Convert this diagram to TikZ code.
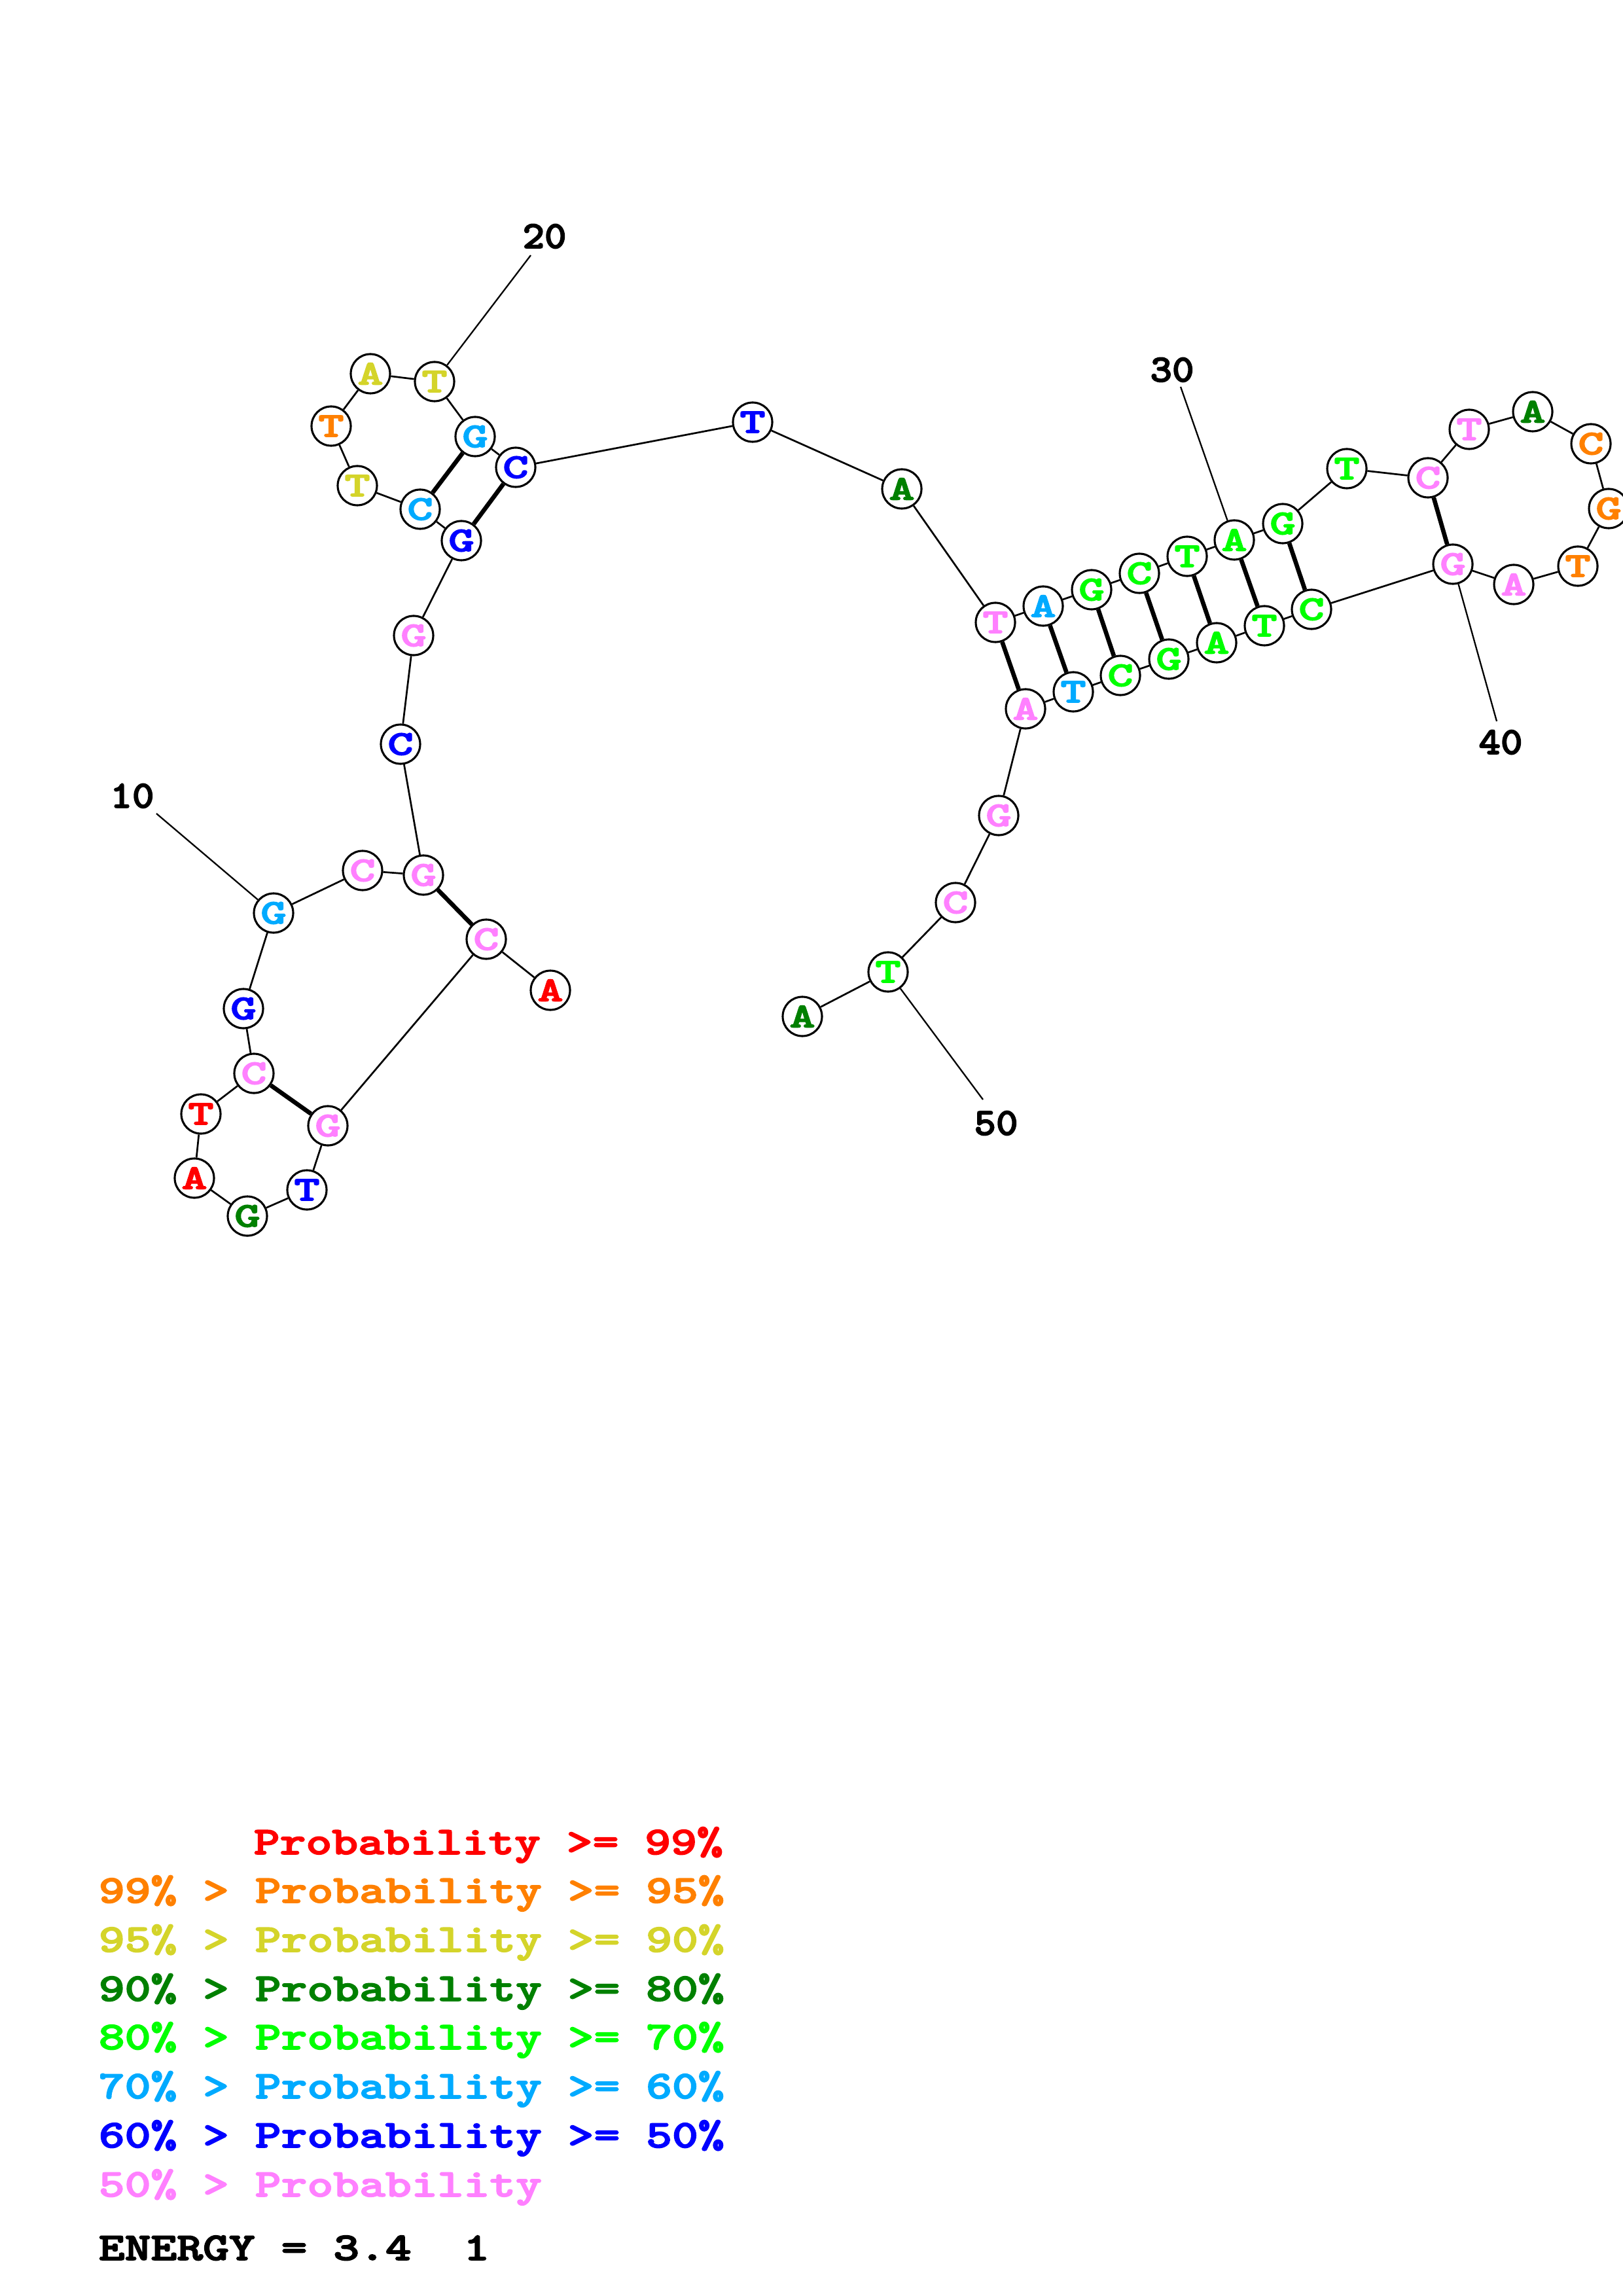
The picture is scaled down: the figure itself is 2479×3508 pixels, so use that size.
\documentclass[tikz,border=0pt]{standalone}
\usepackage{fontspec}
\usepackage{graphicx}
\newfontfamily\courb{lmmonolt10-bold.otf}[FakeBold=2.5]
\definecolor{cred}{RGB}{255,0,0}
\definecolor{corange}{RGB}{255,128,0}
\definecolor{cyellow}{RGB}{212,212,42}
\definecolor{cdgreen}{RGB}{0,128,0}
\definecolor{cgreen}{RGB}{0,255,0}
\definecolor{clblue}{RGB}{0,170,255}
\definecolor{cblue}{RGB}{0,0,255}
\definecolor{cpink}{RGB}{255,128,255}
\newcommand{\ntx}[1]{\scalebox{1.4}[1]{\fontsize{12.8}{12.8}\selectfont\courb #1}}
\newcommand{\lbx}[1]{\scalebox{1.08}[1]{\fontsize{14.2}{14.2}\selectfont\courb #1}}
\newcommand{\lgx}[1]{\scalebox{1.26}[1]{\fontsize{14.45}{14.45}\selectfont\courb #1}}
\tikzset{
  ntbox/.style={circle, draw=black, line width=0.75pt, fill=white, minimum size=14.4pt, inner sep=0pt},
  cR/.style={ntbox, text=cred},
  cO/.style={ntbox, text=corange},
  cY/.style={ntbox, text=cyellow},
  cD/.style={ntbox, text=cdgreen},
  cG/.style={ntbox, text=cgreen},
  cL/.style={ntbox, text=clblue},
  cB/.style={ntbox, text=cblue},
  cP/.style={ntbox, text=cpink},
  bbline/.style={line width=0.65pt},
  prline/.style={line width=1.6pt},
  numline/.style={line width=0.55pt},
  numlbl/.style={inner sep=0pt},
  legline/.style={anchor=base west, inner sep=0pt}
}
\begin{document}
\begin{tikzpicture}[x=0.24pt, y=-0.24pt]
\useasboundingbox (0,0) rectangle (2479,3508);
% nucleotides
\node[cR] (n1) at (841,1513) {\ntx{A}};
\node[cP] (n2) at (743,1435) {\ntx{C}};
\node[cP] (n3) at (501,1720) {\ntx{G}};
\node[cB] (n4) at (469,1818) {\ntx{T}};
\node[cD] (n5) at (378,1858) {\ntx{G}};
\node[cR] (n6) at (297,1800) {\ntx{A}};
\node[cR] (n7) at (307,1702) {\ntx{T}};
\node[cP] (n8) at (388,1640) {\ntx{C}};
\node[cB] (n9) at (372,1541) {\ntx{G}};
\node[cL] (n10) at (418,1395) {\ntx{G}};
\node[cP] (n11) at (554,1330) {\ntx{C}};
\node[cP] (n12) at (647,1337) {\ntx{G}};
\node[cB] (n13) at (612,1137) {\ntx{C}};
\node[cP] (n14) at (632,971) {\ntx{G}};
\node[cB] (n15) at (705,826) {\ntx{G}};
\node[cL] (n16) at (642,778) {\ntx{C}};
\node[cY] (n17) at (546,742) {\ntx{T}};
\node[cO] (n18) at (506,651) {\ntx{T}};
\node[cY] (n19) at (566,571) {\ntx{A}};
\node[cY] (n20) at (664,583) {\ntx{T}};
\node[cL] (n21) at (726,667) {\ntx{G}};
\node[cB] (n22) at (788,714) {\ntx{C}};
\node[cB] (n23) at (1150,645) {\ntx{T}};
\node[cD] (n24) at (1378,747) {\ntx{A}};
\node[cP] (n25) at (1521,951) {\ntx{T}};
\node[cL] (n26) at (1594,926) {\ntx{A}};
\node[cG] (n27) at (1668,901) {\ntx{G}};
\node[cG] (n28) at (1741,876) {\ntx{C}};
\node[cG] (n29) at (1814,850) {\ntx{T}};
\node[cG] (n30) at (1886,825) {\ntx{A}};
\node[cG] (n31) at (1960,800) {\ntx{G}};
\node[cG] (n32) at (2058,716) {\ntx{T}};
\node[cP] (n33) at (2182,730) {\ntx{C}};
\node[cP] (n34) at (2245,656) {\ntx{T}};
\node[cD] (n35) at (2342,629) {\ntx{A}};
\node[cO] (n36) at (2431,678) {\ntx{C}};
\node[cO] (n37) at (2458,777) {\ntx{G}};
\node[cO] (n38) at (2411,865) {\ntx{T}};
\node[cP] (n39) at (2313,893) {\ntx{A}};
\node[cP] (n40) at (2220,862) {\ntx{G}};
\node[cG] (n41) at (2004,931) {\ntx{C}};
\node[cG] (n42) at (1932,956) {\ntx{T}};
\node[cG] (n43) at (1859,982) {\ntx{A}};
\node[cG] (n44) at (1786,1007) {\ntx{G}};
\node[cG] (n45) at (1712,1032) {\ntx{C}};
\node[cL] (n46) at (1640,1057) {\ntx{T}};
\node[cP] (n47) at (1567,1083) {\ntx{A}};
\node[cP] (n48) at (1526,1246) {\ntx{G}};
\node[cP] (n49) at (1460,1379) {\ntx{C}};
\node[cG] (n50) at (1357,1485) {\ntx{T}};
\node[cD] (n51) at (1226,1553) {\ntx{A}};
% backbone
\foreach \i [evaluate=\i as \j using int(\i+1)] in {1,...,50}
  \draw[bbline] (n\i) -- (n\j);
% pairs
\foreach \a/\b in {2/12,3/8,15/22,16/21,25/47,26/46,27/45,28/44,29/43,30/42,31/41,33/40}
  \draw[prline] (n\a) -- (n\b);
% number labels
\coordinate (e10) at (239,1243);
\coordinate (e20) at (811,390);
\coordinate (e30) at (1804,591);
\coordinate (e40) at (2287,1102);
\coordinate (e50) at (1502,1680);
\node[numlbl] (l10) at (202,1216) {\lbx{10}};
\node[numlbl] (l20) at (832,361) {\lbx{20}};
\node[numlbl] (l30) at (1791,565) {\lbx{30}};
\node[numlbl] (l40) at (2293,1134) {\lbx{40}};
\node[numlbl] (l50) at (1522,1716) {\lbx{50}};
\foreach \k in {10,20,30,40,50}
  \draw[numline] (n\k) -- (e\k);
% legend
\node[legline, text=cred] (g1) at (387,2833) {\lgx{Probability >= 99\%}};
\node[legline, text=corange] (g2) at (150,2907) {\lgx{99\% > Probability >= 95\%}};
\node[legline, text=cyellow] (g3) at (150,2982) {\lgx{95\% > Probability >= 90\%}};
\node[legline, text=cdgreen] (g4) at (150,3057) {\lgx{90\% > Probability >= 80\%}};
\node[legline, text=cgreen] (g5) at (150,3131) {\lgx{80\% > Probability >= 70\%}};
\node[legline, text=clblue] (g6) at (150,3206) {\lgx{70\% > Probability >= 60\%}};
\node[legline, text=cblue] (g7) at (150,3281) {\lgx{60\% > Probability >= 50\%}};
\node[legline, text=cpink] (g8) at (150,3356) {\lgx{50\% > Probability}};
\node[legline, text=black] (g9) at (150,3453) {\lgx{ENERGY = 3.4~~1}};
\end{tikzpicture}
\end{document}
